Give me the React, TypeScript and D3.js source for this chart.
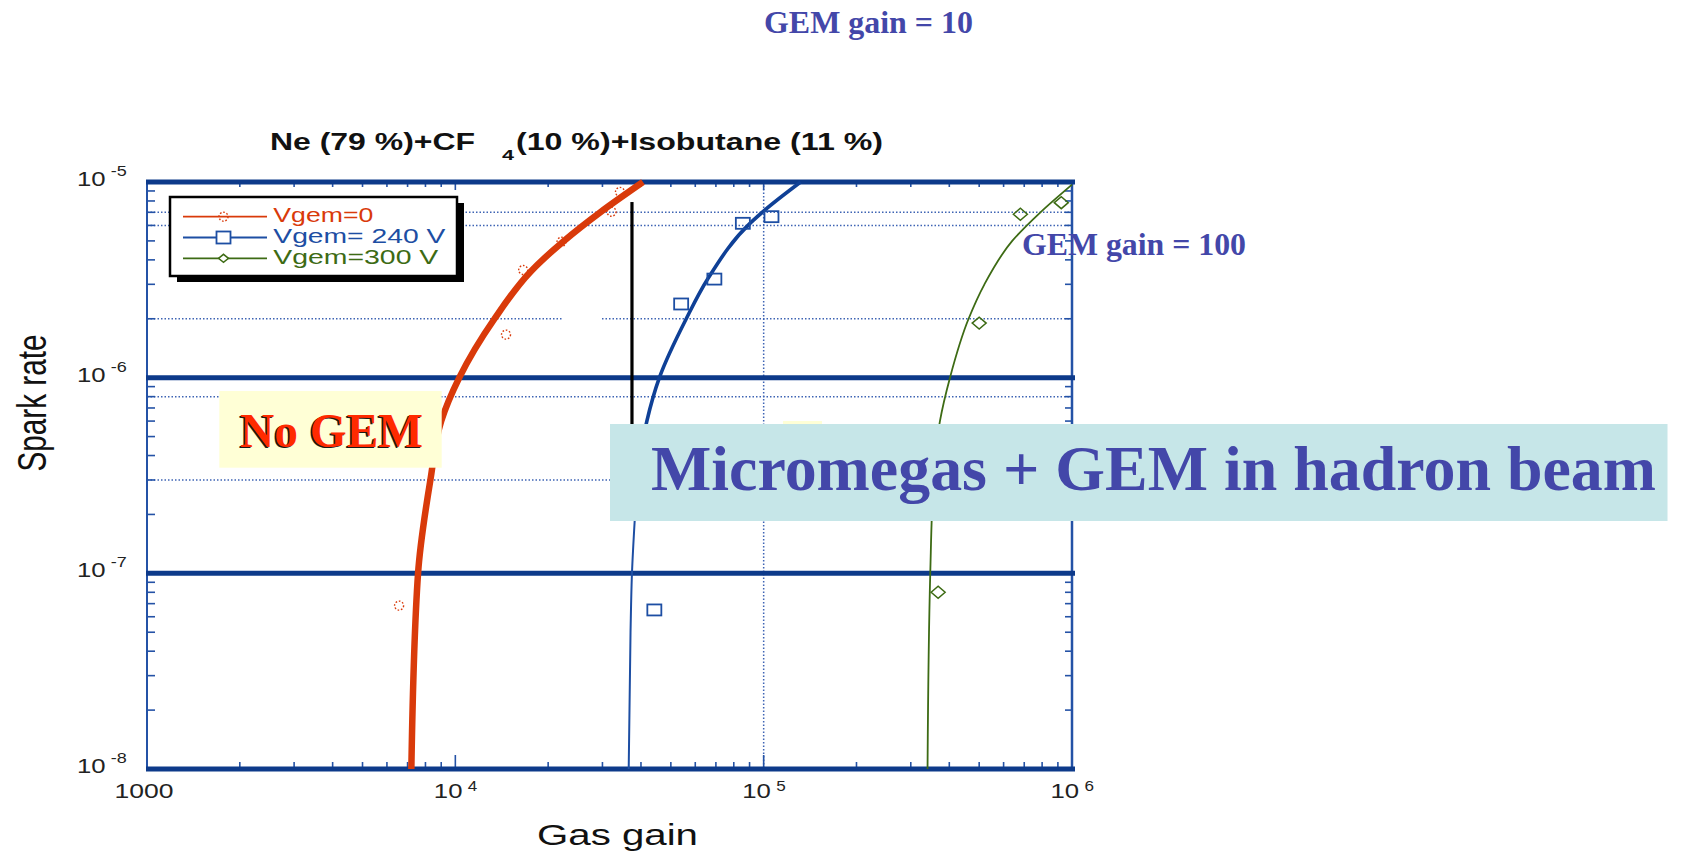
import React from 'react';
import * as d3 from 'd3';

// Axis domains and labelled decades
const gainDomain: [number, number] = [1e3, 1e6];
const rateDomain: [number, number] = [1e-8, 1e-5];
const gainTicks = [1e3, 1e4, 1e5, 1e6];
const gainTickBase = ['1000', '10', '10', '10'];
const gainTickSup = ['', '4', '5', '6'];
const rateTicks = [1e-8, 1e-7, 1e-6, 1e-5];
const rateTickSup = ['-8', '-7', '-6', '-5'];
const thickRateLines = [1e-5, 1e-6, 1e-7, 1e-8];
const dottedRateLines = [7e-6, 6e-6, 2e-6, 8e-7, 3e-7];
const dottedGainLines = [1e5];

// Fitted curves: [gas gain, spark rate]
const vgem0Curve: [number, number][] = [
  [7200, 1e-8], [7570, 1e-7], [8300, 3e-7], [9000, 6e-7], [10300, 1e-6],
  [13400, 2e-6], [17600, 3.5e-6], [22500, 5e-6], [29500, 7e-6], [40600, 1e-5],
];
const vgem240Curve: [number, number][] = [
  [36500, 1e-8], [37000, 5e-8], [37400, 1e-7], [38200, 1.9e-7], [38900, 3e-7],
  [41800, 6e-7], [45900, 1e-6], [56100, 2e-6], [65900, 3.2e-6], [90800, 6.2e-6],
  [101000, 7.2e-6], [131800, 1e-5],
];
const vgem300Curve: [number, number][] = [
  [340000, 1e-8], [347000, 1e-7], [356000, 3e-7], [373000, 6e-7], [402000, 1e-6],
  [462000, 2e-6], [520000, 3e-6], [640000, 5e-6], [790000, 7e-6], [1000000, 9.7e-6],
];

// Measured points: [gas gain, spark rate]
const vgem0Points: [number, number][] = [
  [6570, 6.84e-8], [14600, 1.66e-6], [16600, 3.55e-6], [22100, 4.95e-6],
  [32100, 7.05e-6], [34200, 8.9e-6],
];
const vgem240Points: [number, number][] = [
  [44200, 6.5e-8], [54000, 2.38e-6], [69200, 3.19e-6], [85600, 6.15e-6], [106000, 6.65e-6],
];
const vgem300Points: [number, number][] = [
  [368000, 8.0e-8], [500000, 1.9e-6], [680000, 6.84e-6], [923000, 7.84e-6],
];

// Vertical reference marker
const markerGain = 37400;
const markerRates: [number, number] = [7.9e-6, 4e-7];

const legendLabels = ['Vgem=0', 'Vgem= 240 V', 'Vgem=300 V'];
const legendTextWidths = [100, 172, 165];

const RED = '#d93a0a';
const BLUE = '#1d4ea3';
const GREEN = '#3d6b14';
const FRAME = '#0d3a8a';
const AXIS = '#2452a6';
const GRID = '#3e64b4';
const SLIDE_BLUE = '#4347a9';
const SANS = '"Liberation Sans", Arial, Helvetica, sans-serif';
const SERIF = '"Liberation Serif", "Times New Roman", Times, serif';

export default function App() {
  const left = 147;
  const right = 1072;
  const top = 182;
  const bottom = 769;
  const x = d3.scaleLog().domain(gainDomain).range([left, right]);
  const y = d3.scaleLog().domain(rateDomain).range([bottom, top]);

  const line = d3
    .line<[number, number]>()
    .x((d) => x(d[0]))
    .y((d) => y(d[1]))
    .curve(d3.curveMonotoneY);

  const minorGain = x.ticks();
  const minorRate = y.ticks();

  const thin240 = vgem240Curve.filter((d) => d[1] <= 3e-7);
  const thick240 = vgem240Curve.filter((d) => d[1] >= 3e-7);

  const square = (cx: number, cy: number, key: string | number) => (
    <rect key={key} x={cx - 7} y={cy - 5.5} width={14} height={11} fill="none" stroke={BLUE} strokeWidth={1.8} />
  );
  const diamond = (cx: number, cy: number, key: string | number) => (
    <path
      key={key}
      d={`M${cx - 7},${cy} L${cx},${cy - 6} L${cx + 7},${cy} L${cx},${cy + 6} Z`}
      fill="none"
      stroke={GREEN}
      strokeWidth={1.5}
    />
  );
  const dotCircle = (cx: number, cy: number, key: string | number) => (
    <circle key={key} cx={cx} cy={cy} r={4.5} fill="none" stroke={RED} strokeWidth={1.4} strokeDasharray="1.6 1.8" />
  );

  const legendRowsY = [216.7, 237.5, 258.3];
  const legendColors = [RED, BLUE, GREEN];

  return (
    <svg
      width={1681}
      height={852}
      style={{ position: 'absolute', left: 0, top: 0, background: '#fff' }}
    >
      <rect x={0} y={0} width={1681} height={852} fill="#fff" />

      {/* title */}
      <g fontFamily={SANS} fontWeight="bold" fill="#111">
        <text x={270} y={150} fontSize={23} textLength={205} lengthAdjust="spacingAndGlyphs">
          Ne (79 %)+CF
        </text>
        <text x={502} y={160} fontSize={14} textLength={12} lengthAdjust="spacingAndGlyphs">
          4
        </text>
        <text x={516} y={150} fontSize={23} textLength={367} lengthAdjust="spacingAndGlyphs">
          (10 %)+Isobutane (11 %)
        </text>
      </g>

      {/* dotted grid */}
      {dottedRateLines.map((r, i) =>
        r === 2e-6 ? (
          <g key={`dr${i}`}>
            <line x1={left} x2={563} y1={y(r)} y2={y(r)} stroke={GRID} strokeWidth={1.5} strokeDasharray="1.5 2" />
            <line x1={602} x2={right} y1={y(r)} y2={y(r)} stroke={GRID} strokeWidth={1.5} strokeDasharray="1.5 2" />
          </g>
        ) : (
          <line key={`dr${i}`} x1={left} x2={right} y1={y(r)} y2={y(r)} stroke={GRID} strokeWidth={1.5} strokeDasharray="1.5 2" />
        )
      )}
      {dottedGainLines.map((g, i) => (
        <line key={`dg${i}`} x1={x(g)} x2={x(g)} y1={top} y2={bottom} stroke={GRID} strokeWidth={1.5} strokeDasharray="1.5 2" />
      ))}

      {/* minor ticks on all four sides */}
      {minorRate.map((r, i) => {
        const major = rateTicks.includes(r);
        return (
          <g key={`yt${i}`} stroke={AXIS} strokeWidth={1.6}>
            <line x1={left} x2={left + (major ? 12 : 8)} y1={y(r)} y2={y(r)} />
            <line x1={right} x2={right - (major ? 12 : 7)} y1={y(r)} y2={y(r)} />
          </g>
        );
      })}
      {minorGain.map((g, i) => {
        const major = gainTicks.includes(g);
        return (
          <g key={`xt${i}`} stroke={AXIS} strokeWidth={1.6}>
            <line x1={x(g)} x2={x(g)} y1={bottom} y2={bottom - (major ? 14 : 7)} />
            <line x1={x(g)} x2={x(g)} y1={top} y2={top + (major ? 8 : 5)} />
          </g>
        );
      })}

      {/* frame */}
      <line x1={left} x2={left} y1={top} y2={bottom} stroke={AXIS} strokeWidth={2} />
      <line x1={right} x2={right} y1={top} y2={bottom} stroke={AXIS} strokeWidth={2.5} />
      {thickRateLines.map((r, i) => (
        <line key={`tl${i}`} x1={left - 1} x2={right + 3} y1={y(r)} y2={y(r)} stroke={FRAME} strokeWidth={5} />
      ))}

      {/* reference marker */}
      <line
        x1={x(markerGain)}
        x2={x(markerGain)}
        y1={y(markerRates[0])}
        y2={y(markerRates[1])}
        stroke="#000"
        strokeWidth={3.2}
      />

      {/* fitted curves */}
      <path d={line(vgem300Curve) || ''} fill="none" stroke={GREEN} strokeWidth={1.8} />
      <path d={line(thin240) || ''} fill="none" stroke={BLUE} strokeWidth={2} />
      <path d={line(thick240) || ''} fill="none" stroke="#0f4096" strokeWidth={3.6} />
      <path d={line(vgem0Curve) || ''} fill="none" stroke={RED} strokeWidth={6.5} />

      {/* measured points */}
      {vgem0Points.map((d, i) => dotCircle(x(d[0]), y(d[1]), `p0${i}`))}
      {vgem240Points.map((d, i) => square(x(d[0]), y(d[1]), `p1${i}`))}
      {vgem300Points.map((d, i) => diamond(x(d[0]), y(d[1]), `p2${i}`))}

      {/* tick labels */}
      <g fontFamily={SANS} fill="#222">
        {rateTicks.map((r, i) => (
          <g key={`yl${i}`}>
            <text x={77} y={y(r) + 4} fontSize={21} textLength={28.6} lengthAdjust="spacingAndGlyphs">
              10
            </text>
            <text x={110.7} y={y(r) - 6} fontSize={14} textLength={16} lengthAdjust="spacingAndGlyphs">
              {rateTickSup[i]}
            </text>
          </g>
        ))}
        {gainTicks.map((g, i) =>
          gainTickSup[i] === '' ? (
            <text key={`xl${i}`} x={x(g) - 32.5} y={798} fontSize={21} textLength={59} lengthAdjust="spacingAndGlyphs">
              {gainTickBase[i]}
            </text>
          ) : (
            <g key={`xl${i}`}>
              <text x={x(g) - 21.5} y={798} fontSize={21} textLength={28.6} lengthAdjust="spacingAndGlyphs">
                {gainTickBase[i]}
              </text>
              <text x={x(g) + 12.5} y={791} fontSize={14} textLength={9.5} lengthAdjust="spacingAndGlyphs">
                {gainTickSup[i]}
              </text>
            </g>
          )
        )}
      </g>

      {/* axis titles */}
      <text
        transform="translate(46,403) rotate(-90) scale(1,1.33)"
        textAnchor="middle"
        fontFamily={SANS}
        fontSize={30}
        fill="#111"
        textLength={137}
        lengthAdjust="spacingAndGlyphs"
      >
        Spark rate
      </text>
      <text x={537} y={845} fontFamily={SANS} fontSize={30} fill="#111" textLength={161} lengthAdjust="spacingAndGlyphs">
        Gas gain
      </text>

      {/* legend */}
      <rect x={177} y={203} width={287} height={79} fill="#000" />
      <rect x={170} y={197} width={287} height={79} fill="#fff" stroke="#000" strokeWidth={2.5} />
      {legendLabels.map((lab, i) => {
        const ly = legendRowsY[i];
        return (
          <g key={`lg${i}`}>
            <line x1={183} x2={267} y1={ly} y2={ly} stroke={legendColors[i]} strokeWidth={1.8} />
            {i === 0 && dotCircle(223.5, ly, 'lm0')}
            {i === 1 && (
              <rect x={216.5} y={ly - 6} width={14} height={12} fill="#fff" stroke={BLUE} strokeWidth={1.8} />
            )}
            {i === 2 && (
              <path
                d={`M${218.5},${ly} L${223.5},${ly - 4} L${228.5},${ly} L${223.5},${ly + 4} Z`}
                fill="#fff"
                stroke={GREEN}
                strokeWidth={1.5}
              />
            )}
            <text
              x={273.3}
              y={ly + 5.3}
              fontFamily={SANS}
              fontSize={20}
              fill={legendColors[i]}
              textLength={legendTextWidths[i]}
              lengthAdjust="spacingAndGlyphs"
            >
              {lab}
            </text>
          </g>
        );
      })}

      {/* annotation boxes */}
      <rect x={219.3} y={391} width={222.4} height={76.7} fill="#ffffd6" />
      <g fontFamily={SERIF} fontWeight="bold" fontSize={48}>
        <text x={238.5} y={448.2} fill="#1a1a1a" textLength={183} lengthAdjust="spacingAndGlyphs">
          No GEM
        </text>
        <text x={240} y={446.7} fill="#ff2a00" textLength={183} lengthAdjust="spacingAndGlyphs">
          No GEM
        </text>
      </g>
      <rect x={783} y={421} width={39} height={40} fill="#ffffd6" />
      <rect x={610} y={424} width={1057.5} height={97} fill="#c6e6e8" />
      <text
        x={651}
        y={490}
        fontFamily={SERIF}
        fontWeight="bold"
        fontSize={64}
        fill={SLIDE_BLUE}
        textLength={1005}
        lengthAdjust="spacingAndGlyphs"
      >
        Micromegas + GEM in hadron beam
      </text>
      <text
        x={764}
        y={33}
        fontFamily={SERIF}
        fontWeight="bold"
        fontSize={32}
        fill={SLIDE_BLUE}
        textLength={209}
        lengthAdjust="spacingAndGlyphs"
      >
        GEM gain = 10
      </text>
      <text
        x={1022}
        y={255}
        fontFamily={SERIF}
        fontWeight="bold"
        fontSize={32}
        fill={SLIDE_BLUE}
        textLength={224}
        lengthAdjust="spacingAndGlyphs"
      >
        GEM gain = 100
      </text>
    </svg>
  );
}
